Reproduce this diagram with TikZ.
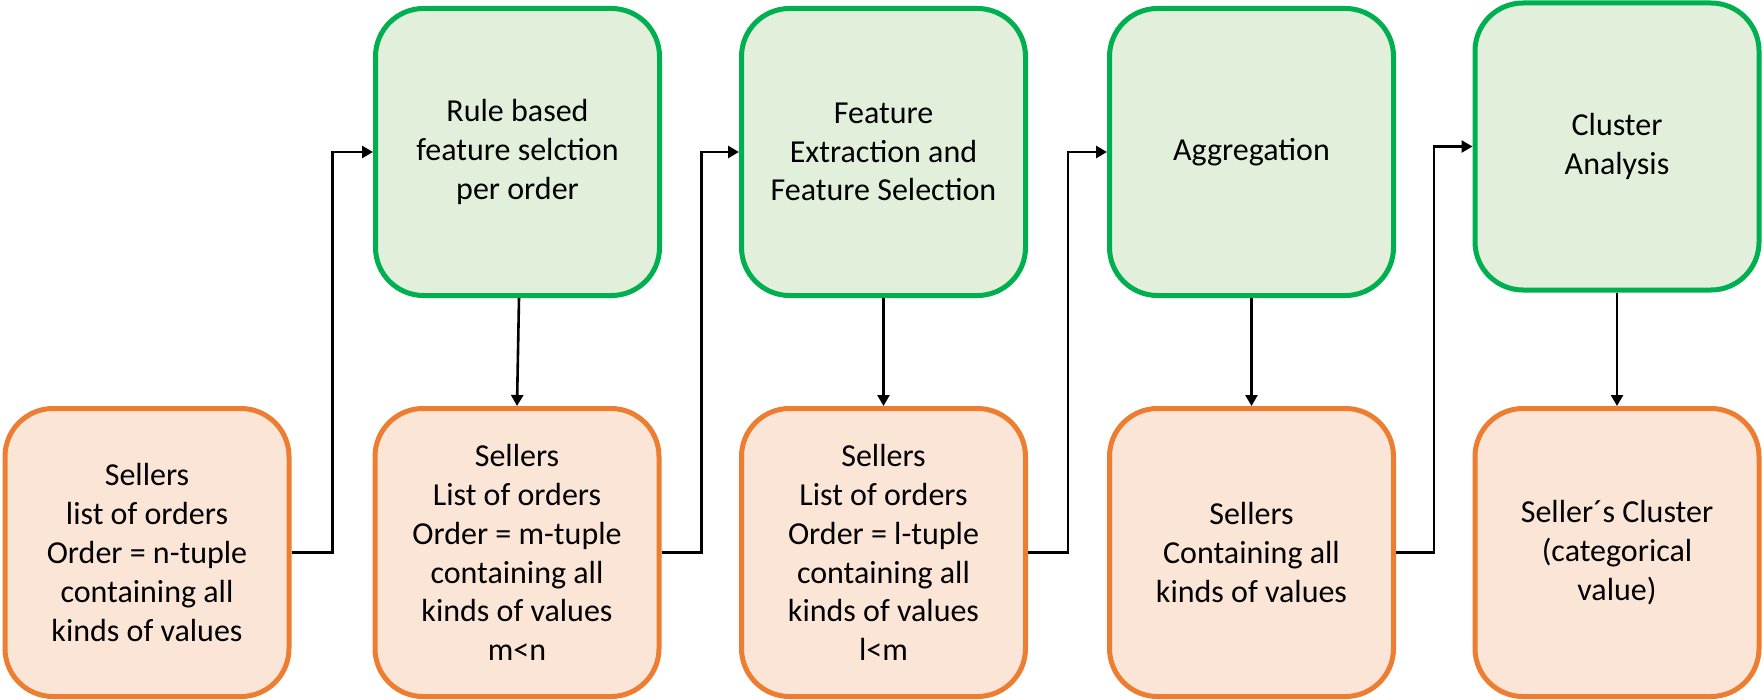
\documentclass[tikz,border=0pt]{standalone}
\usepackage{fontspec}
\setmainfont{Carlito}
\usetikzlibrary{arrows.meta,calc}
\definecolor{gborder}{HTML}{00B050}
\definecolor{gfill}{HTML}{E2EFDA}
\definecolor{oborder}{HTML}{ED7D31}
\definecolor{ofill}{HTML}{FBE5D6}
\tikzset{
  box/.style={draw, line width=2.5pt, rounded corners=24pt, align=center,
    minimum width=142pt, inner sep=0pt,
    font=\fontsize{16}{19.4}\selectfont},
  gbox/.style={box, draw=gborder, fill=gfill, minimum height=143.5pt},
  obox/.style={box, draw=oborder, fill=ofill, minimum height=144pt},
  arr/.style={line width=1.3pt, -{Triangle[length=5.5pt,width=6pt]}},
}
\begin{document}
\begin{tikzpicture}[x=0.5pt,y=-0.5pt]
\useasboundingbox (0,0) rectangle (1764,700);
\node[gbox] (g1) at (517.5,152) {Rule based\\feature selction\\per order};
\node[gbox] (g2) at (883.5,152) {Feature\\Extraction and\\Feature Selection};
\node[gbox] (g3) at (1251.5,152) {Aggregation};
\node[gbox] (g4) at (1617,146.5) {Cluster\\Analysis};
\node[obox] (o1) at (147,552.5) {Sellers\\list of orders\\Order = n-tuple\\containing all\\kinds of values};
\node[obox] (o2) at (517,552.5) {Sellers\\List of orders\\Order = m-tuple\\containing all\\kinds of values\\m<n};
\node[obox] (o3) at (883.5,552.5) {Sellers\\List of orders\\Order = l-tuple\\containing all\\kinds of values\\l<m};
\node[obox] (o4) at (1251.5,552.5) {Sellers\\Containing all\\kinds of values};
\node[obox] (o5) at (1617,552.5) {Seller´s Cluster\\(categorical\\value)};
\draw[arr] (o1.east) -- ($(o1.east)+(41,0)$) |- (g1.west);
\draw[arr] (o2.east) -- ($(o2.east)+(40,0)$) |- (g2.west);
\draw[arr] (o3.east) -- ($(o3.east)+(40,0)$) |- (g3.west);
\draw[arr] (o4.east) -- ($(o4.east)+(38,0)$) |- (g4.west);
\draw[arr] ($(g1.south)+(1.5,0)$) -- (o2.north);
\draw[arr] (g2.south) -- (o3.north);
\draw[arr] (g3.south) -- (o4.north);
\draw[arr] (g4.south) -- (o5.north);
\end{tikzpicture}
\end{document}
